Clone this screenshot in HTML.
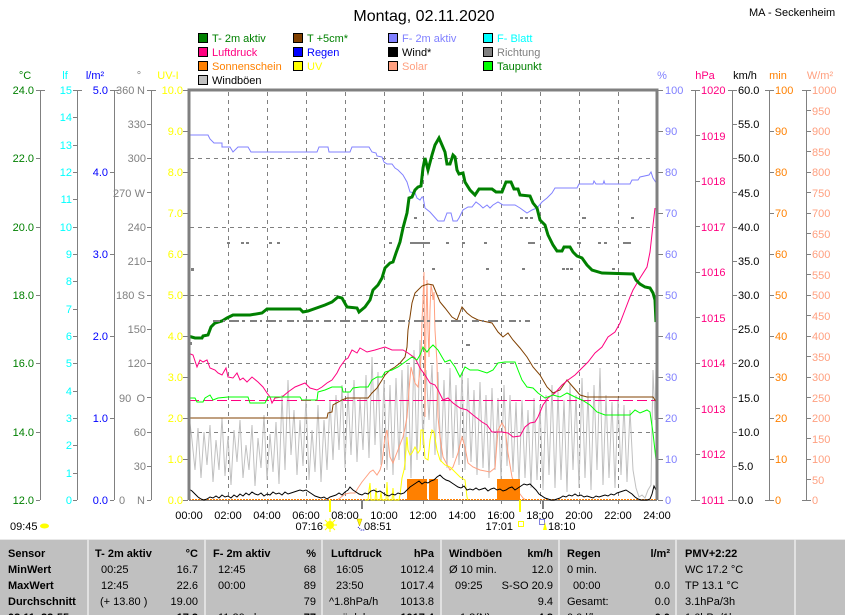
<!DOCTYPE html>
<html><head><meta charset="utf-8"><style>
html,body{margin:0;padding:0;background:#fff;width:845px;height:615px;overflow:hidden}
svg{display:block;font-family:"Liberation Sans",Arial,sans-serif}
</style></head><body>
<svg width="845" height="615" viewBox="0 0 845 615" xmlns="http://www.w3.org/2000/svg" font-size="11">
<rect width="845" height="615" fill="#fff"/>
<!-- title -->
<text x="424" y="21" font-size="16" text-anchor="middle">Montag, 02.11.2020</text>
<text x="749" y="16">MA - Seckenheim</text>

<!-- legend -->
<g stroke="#000" stroke-width="1" shape-rendering="crispEdges">
<rect x="198.5" y="33.5" width="9" height="9" fill="#008000"/>
<rect x="293.5" y="33.5" width="9" height="9" fill="#804000"/>
<rect x="388.5" y="33.5" width="9" height="9" fill="#8080ff"/>
<rect x="483.5" y="33.5" width="9" height="9" fill="#00ffff"/>
<rect x="198.5" y="47.5" width="9" height="9" fill="#ff0080"/>
<rect x="293.5" y="47.5" width="9" height="9" fill="#0000ff"/>
<rect x="388.5" y="47.5" width="9" height="9" fill="#000"/>
<rect x="483.5" y="47.5" width="9" height="9" fill="#808080"/>
<rect x="198.5" y="61.5" width="9" height="9" fill="#ff8000"/>
<rect x="293.5" y="61.5" width="9" height="9" fill="#ffff00"/>
<rect x="388.5" y="61.5" width="9" height="9" fill="#ffa080"/>
<rect x="483.5" y="61.5" width="9" height="9" fill="#00ff00"/>
<rect x="198.5" y="75.5" width="9" height="9" fill="#c0c0c0"/>
</g>
<text x="212" y="42" fill="#008000">T- 2m aktiv</text>
<text x="307" y="42" fill="#008000">T +5cm*</text>
<text x="402" y="42" fill="#8080ff">F- 2m aktiv</text>
<text x="497" y="42" fill="#00ffff">F- Blatt</text>
<text x="212" y="56" fill="#ff0080">Luftdruck</text>
<text x="307" y="56" fill="#0000ff">Regen</text>
<text x="402" y="56" fill="#000">Wind*</text>
<text x="497" y="56" fill="#808080">Richtung</text>
<text x="212" y="70" fill="#ff8000">Sonnenschein</text>
<text x="307" y="70" fill="#ffff00">UV</text>
<text x="402" y="70" fill="#ffa080">Solar</text>
<text x="497" y="70" fill="#008000">Taupunkt</text>
<text x="212" y="84" fill="#000">Windböen</text>

<!-- axis headers -->
<text x="25" y="79" fill="#008000" text-anchor="middle">°C</text>
<text x="65" y="79" fill="#00ffff" text-anchor="middle">lf</text>
<text x="95" y="79" fill="#0000ff" text-anchor="middle">l/m²</text>
<text x="139" y="79" fill="#808080" text-anchor="middle">°</text>
<text x="168" y="79" fill="#ffff00" text-anchor="middle">UV-I</text>
<text x="662" y="79" fill="#8080ff" text-anchor="middle">%</text>
<text x="705" y="79" fill="#ff0080" text-anchor="middle">hPa</text>
<text x="745" y="79" fill="#000" text-anchor="middle">km/h</text>
<text x="778" y="79" fill="#ff8000" text-anchor="middle">min</text>
<text x="820" y="79" fill="#ffa080" text-anchor="middle">W/m²</text>

<!-- axis lines and ticks -->
<g stroke="#808080" stroke-width="1" fill="none" shape-rendering="crispEdges">
<path d="M40.5 90V500M77.5 90V500M114.5 90V500M151.5 90V500M695.5 90V500M732.5 90V500M769.5 90V500M806.5 90V500"/>
<path d="M36 90.5H45M36 158.5H40M36 227.5H40M36 295.5H40M36 363.5H40M36 432.5H40M36 500.5H40"/>
<path d="M73 90.5H82M73 117.5H77M73 145.5H77M73 172.5H77M73 199.5H77M73 227.5H77M73 254.5H77M73 281.5H77M73 309.5H77M73 336.5H77M73 363.5H77M73 391.5H77M73 418.5H77M73 445.5H77M73 473.5H77M73 500.5H77"/>
<path d="M110 90.5H119M110 172.5H114M110 254.5H114M110 336.5H114M110 418.5H114M110 500.5H114"/>
<path d="M147 90.5H156M147 124.5H151M147 158.5H151M147 192.5H151M147 227.5H151M147 261.5H151M147 295.5H151M147 329.5H151M147 363.5H151M147 397.5H151M147 432.5H151M147 466.5H151M147 500.5H151"/>
<path d="M183 90.5H188M183 131.5H188M183 172.5H188M183 213.5H188M183 254.5H188M183 295.5H188M183 336.5H188M183 377.5H188M183 418.5H188M183 459.5H188M183 500.5H188"/>
<path d="M658 90.5H663M658 131.5H663M658 172.5H663M658 213.5H663M658 254.5H663M658 295.5H663M658 336.5H663M658 377.5H663M658 418.5H663M658 459.5H663M658 500.5H663"/>
<path d="M691 90.5H700M696 135.5H700M696 181.5H700M696 226.5H700M696 272.5H700M696 317.5H700M696 363.5H700M696 408.5H700M696 454.5H700M691 500.5H700"/>
<path d="M728 90.5H737M733 124.5H737M733 158.5H737M733 192.5H737M733 227.5H737M733 261.5H737M733 295.5H737M733 329.5H737M733 363.5H737M733 397.5H737M733 432.5H737M733 466.5H737M728 500.5H737"/>
<path d="M765 90.5H774M770 131.5H774M770 172.5H774M770 213.5H774M770 254.5H774M770 295.5H774M770 336.5H774M770 377.5H774M770 418.5H774M770 459.5H774M765 500.5H774"/>
<path d="M802 90.5H811M807 110.5H811M807 131.5H811M807 151.5H811M807 172.5H811M807 192.5H811M807 213.5H811M807 233.5H811M807 254.5H811M807 274.5H811M807 295.5H811M807 315.5H811M807 336.5H811M807 356.5H811M807 377.5H811M807 397.5H811M807 418.5H811M807 438.5H811M807 459.5H811M807 479.5H811M802 500.5H811"/>
<path d="M228.5 500V504M267.5 500V504M306.5 500V504M345.5 500V504M384.5 500V504M423.5 500V504M462.5 500V504M501.5 500V504M540.5 500V504M579.5 500V504M618.5 500V504"/>
</g>

<!-- left labels -->
<g fill="#008000" text-anchor="end">
<text x="34" y="94">24.0</text><text x="34" y="162">22.0</text><text x="34" y="231">20.0</text><text x="34" y="299">18.0</text><text x="34" y="367">16.0</text><text x="34" y="436">14.0</text><text x="34" y="504">12.0</text>
</g>
<g fill="#00ffff" text-anchor="end">
<text x="72" y="94">15</text><text x="72" y="121">14</text><text x="72" y="149">13</text><text x="72" y="176">12</text><text x="72" y="203">11</text><text x="72" y="231">10</text><text x="72" y="258">9</text><text x="72" y="285">8</text><text x="72" y="313">7</text><text x="72" y="340">6</text><text x="72" y="367">5</text><text x="72" y="395">4</text><text x="72" y="422">3</text><text x="72" y="449">2</text><text x="72" y="477">1</text><text x="72" y="504">0</text>
</g>
<g fill="#0000ff" text-anchor="end">
<text x="108" y="94">5.0</text><text x="108" y="176">4.0</text><text x="108" y="258">3.0</text><text x="108" y="340">2.0</text><text x="108" y="422">1.0</text><text x="108" y="504">0.0</text>
</g>
<g fill="#808080">
<text x="116" y="94">360</text><text x="145" y="94" text-anchor="end">N</text>
<text x="146" y="128" text-anchor="end">330</text>
<text x="146" y="162" text-anchor="end">300</text>
<text x="113" y="197">270</text><text x="145" y="197" text-anchor="end">W</text>
<text x="146" y="231" text-anchor="end">240</text>
<text x="146" y="265" text-anchor="end">210</text>
<text x="116" y="299">180</text><text x="145" y="299" text-anchor="end">S</text>
<text x="146" y="333" text-anchor="end">150</text>
<text x="146" y="367" text-anchor="end">120</text>
<text x="119" y="402">90</text><text x="145" y="402" text-anchor="end">O</text>
<text x="146" y="436" text-anchor="end">60</text>
<text x="146" y="470" text-anchor="end">30</text>
<text x="119" y="504">0</text><text x="145" y="504" text-anchor="end">N</text>
</g>
<g fill="#ffff00" text-anchor="end">
<text x="183" y="94">10.0</text><text x="183" y="135">9.0</text><text x="183" y="176">8.0</text><text x="183" y="217">7.0</text><text x="183" y="258">6.0</text><text x="183" y="299">5.0</text><text x="183" y="340">4.0</text><text x="183" y="381">3.0</text><text x="183" y="422">2.0</text><text x="183" y="463">1.0</text><text x="183" y="504">0.0</text>
</g>
<!-- right labels -->
<g fill="#8080ff">
<text x="665" y="94">100</text><text x="665" y="135">90</text><text x="665" y="176">80</text><text x="665" y="217">70</text><text x="665" y="258">60</text><text x="665" y="299">50</text><text x="665" y="340">40</text><text x="665" y="381">30</text><text x="665" y="422">20</text><text x="665" y="463">10</text><text x="665" y="504">0</text>
</g>
<g fill="#ff0080">
<text x="701" y="94">1020</text><text x="701" y="140">1019</text><text x="701" y="185">1018</text><text x="701" y="231">1017</text><text x="701" y="276">1016</text><text x="701" y="322">1015</text><text x="701" y="367">1014</text><text x="701" y="413">1013</text><text x="701" y="458">1012</text><text x="701" y="504">1011</text>
</g>
<g fill="#000">
<text x="738" y="94">60.0</text><text x="738" y="128">55.0</text><text x="738" y="162">50.0</text><text x="738" y="197">45.0</text><text x="738" y="231">40.0</text><text x="738" y="265">35.0</text><text x="738" y="299">30.0</text><text x="738" y="333">25.0</text><text x="738" y="367">20.0</text><text x="738" y="402">15.0</text><text x="738" y="436">10.0</text><text x="738" y="470">5.0</text><text x="738" y="504">0.0</text>
</g>
<g fill="#ff8000">
<text x="775" y="94">100</text><text x="775" y="135">90</text><text x="775" y="176">80</text><text x="775" y="217">70</text><text x="775" y="258">60</text><text x="775" y="299">50</text><text x="775" y="340">40</text><text x="775" y="381">30</text><text x="775" y="422">20</text><text x="775" y="463">10</text><text x="775" y="504">0</text>
</g>
<g fill="#ffa080">
<text x="812" y="94">1000</text><text x="812" y="115">950</text><text x="812" y="135">900</text><text x="812" y="156">850</text><text x="812" y="176">800</text><text x="812" y="197">750</text><text x="812" y="217">700</text><text x="812" y="238">650</text><text x="812" y="258">600</text><text x="812" y="279">550</text><text x="812" y="299">500</text><text x="812" y="320">450</text><text x="812" y="340">400</text><text x="812" y="361">350</text><text x="812" y="381">300</text><text x="812" y="402">250</text><text x="812" y="422">200</text><text x="812" y="443">150</text><text x="812" y="463">100</text><text x="812" y="484">50</text><text x="812" y="504">0</text>
</g>

<!-- grid -->
<g stroke="#808080" stroke-width="1" stroke-dasharray="4,4" fill="none" shape-rendering="crispEdges">
<path d="M228.5 92V500M267.5 92V500M306.5 92V500M345.5 92V500M384.5 92V500M423.5 92V500M462.5 92V500M501.5 92V500M540.5 92V500M579.5 92V500M618.5 92V500"/>
<path d="M190 158.5H656M190 227.5H656M190 295.5H656M190 363.5H656M190 432.5H656"/>
</g>
<line x1="189" y1="500.5" x2="657" y2="500.5" stroke="#808080" stroke-width="1"/>

<!-- wind gusts -->
<polyline fill="none" stroke="#c0c0c0" stroke-width="1" points="189,415 192,440 195,470 198,428 201,478 204,432 207,465 210,425 213,482 216,440 219,470 222,418 225,476 228,436 231,485 234,430 237,462 240,420 243,478 246,445 249,470 252,425 255,486 258,438 261,468 264,415 267,480 270,434 273,472 276,422 279,484 282,395 285,470 288,380 291,455 294,410 297,475 300,420 303,466 306,398 309,480 312,430 315,472 318,405 321,482 324,420 327,470 330,400 333,460 336,395 339,450 342,385 345,468 348,392 351,455 354,380 357,462 360,398 363,450 366,375 369,458 372,357 375,445 378,372 381,465 384,380 387,470 390,385 393,475 396,378 399,460 402,370 405,470 408,365 411,478 414,350 417,460 420,340 423,445 426,370 429,420 432,365 435,455 438,372 441,462 444,380 447,468 450,368 453,458 456,385 459,465 462,372 465,470 468,378 471,462 474,390 477,475 480,382 483,468 486,395 489,478 492,388 495,470 498,398 501,480 504,385 507,466 510,395 513,472 516,402 519,485 522,400 525,478 528,410 531,488 534,398 537,480 540,405 543,490 546,395 549,475 552,385 555,488 558,392 561,480 564,400 567,492 570,383 573,470 576,395 579,488 582,378 585,478 588,392 591,490 594,385 597,470 600,368 603,485 606,395 609,478 612,402 615,488 618,398 621,475 624,405 627,482 630,410 633,470 636,488 639,497 642,495 645,498 648,490 651,485 653,370 655,420 656,368 657,440"/>

<!-- solar -->
<polyline fill="none" stroke="#ffa080" stroke-width="1" points="337,500 340,498 345,494 350,493 355,493 358,488 362,482 366,477 370,472 373,470 377,475 380,470 382,463 384,445 385,437 387,430 390,457 393,463 396,455 398,450 401,442 403,437 405,428 407,417 409,390 411,367 413,375 415,383 418,387 420,370 421,357 422,320 423,300 424,272 425,417 426,320 427,280 428,330 429,357 430,310 431,285 432,290 433,300 434,292 435,330 437,363 438,417 440,437 443,457 450,470 453,467 458,453 462,437 465,447 468,463 473,467 480,470 490,472 495,468 498,430 502,423 505,428 508,453 512,477 517,490 523,498 526,500"/>

<!-- sunshine bars -->
<g fill="#ff8000">
<rect x="407" y="479" width="20" height="21"/>
<rect x="429" y="479" width="9" height="21"/>
<rect x="497" y="479" width="23" height="21"/>
</g>
<line x1="189" y1="499.5" x2="657" y2="499.5" stroke="#ff8000" stroke-width="1" stroke-dasharray="2,1"/>

<!-- UV -->
<polyline fill="none" stroke="#ffff00" stroke-width="1" points="365,500 368,500 369,490 370,483 371,500 375,500 376,488 377,500 380,500 381,492 382,500 386,500 387,482 388,500 392,500 393,488 394,500 399,500 400,495 402,478 404,470 405,463 407,437 408,450 410,455 412,453 415,447 418,453 420,450 421,430 423,430 425,458 428,460 430,440 432,430 434,432 437,450 440,460 445,465 450,467 453,470 460,477 465,480 467,497 468,500"/>

<!-- wind -->
<polyline fill="none" stroke="#000" stroke-width="1" points="189,489 192,491 195,494 198,497 201,499 204,500 207,499 210,497 213,498 216,496 219,498 222,495 225,497 228,496 231,498 234,495 237,497 240,494 243,496 246,493 249,495 252,492 255,494 258,495 261,493 264,496 267,494 270,495 273,492 276,494 279,493 282,495 285,492 288,494 291,493 294,492 297,491 300,490 303,491 306,490 309,492 312,494 315,496 318,497 321,498 324,497 327,499 330,497 333,496 336,495 339,493 342,495 345,492 348,490 350,487 353,490 356,492 359,494 362,495 365,493 368,494 371,491 374,490 377,492 380,491 383,493 386,495 389,496 392,494 395,495 398,493 401,494 404,493 407,490 410,487 413,485 416,483 419,481 422,484 425,482 428,483 431,481 434,480 437,477 440,475 443,478 446,480 449,481 452,483 455,485 458,487 461,488 464,486 467,490 470,489 473,490 476,488 479,490 482,489 485,488 488,491 491,489 494,488 497,490 500,489 503,491 506,490 509,488 512,487 515,490 518,488 521,486 524,484 527,485 530,484 533,487 536,490 539,494 542,496 545,498 548,499 551,500 554,500 557,499 560,498 563,496 566,497 569,495 572,496 575,494 578,496 581,495 584,497 587,496 590,497 593,498 596,496 599,497 602,496 605,495 608,496 611,494 614,495 617,493 620,492 623,491 626,490 629,492 632,494 635,497 638,499 641,500 644,500 647,500 650,499 652,494 654,486 656,490 657,495"/>

<!-- pressure dashed avg -->
<line x1="189" y1="400.5" x2="657" y2="400.5" stroke="#ff0080" stroke-width="1" stroke-dasharray="10,4"/>

<!-- T +5cm -->
<polyline fill="none" stroke="#804000" stroke-width="1" points="188,418 327,418 328,413 332,412 333,405 342,400 347,398 368,398 372,393 377,388 382,380 385,375 390,370 395,367 400,363 405,357 407,347 408,330 410,317 412,303 415,293 418,290 422,286 428,284 433,285 440,302 445,308 452,317 457,320 462,307 467,313 472,317 478,320 492,323 498,332 503,337 508,333 513,340 520,348 527,357 533,367 540,375 547,387 553,393 560,390 567,380 573,387 580,395 587,397 653,397 657,403"/>

<!-- pressure -->
<polyline fill="none" stroke="#ff0080" stroke-width="1" points="188,353 193,355 197,367 200,360 203,362 207,360 210,368 215,370 218,373 222,375 226,368 228,377 233,378 237,373 240,380 243,378 247,382 252,377 258,382 263,387 267,393 270,397 272,403 275,398 282,397 288,392 295,387 300,385 305,383 310,388 317,390 322,387 327,383 332,380 337,373 340,367 345,360 348,358 352,350 357,353 360,348 367,352 375,350 385,347 392,350 403,350 408,353 415,358 420,368 425,375 430,383 435,385 438,390 443,400 448,398 453,403 460,408 467,410 473,415 482,422 487,425 492,432 502,432 508,433 513,437 520,436 525,427 530,423 535,422 538,417 543,405 548,398 555,393 562,385 568,380 575,375 582,368 588,362 595,353 602,347 608,337 615,332 620,323 625,310 630,297 633,290 640,278 647,267 650,252 653,225 655,208"/>

<!-- dew point -->
<polyline fill="none" stroke="#00ff00" stroke-width="1" points="188,398 195,398 197,402 203,402 205,398 210,395 213,400 218,398 228,397 238,397 248,397 250,403 265,403 268,397 282,397 300,397 302,400 317,400 318,392 325,390 332,387 342,387 343,392 350,392 353,388 360,387 368,387 372,380 377,377 382,377 385,372 392,370 398,367 405,362 412,357 417,360 420,355 423,347 427,352 430,348 433,345 438,350 442,357 445,362 450,360 455,367 460,377 465,367 470,370 478,370 487,373 493,370 498,363 505,362 515,362 518,370 522,380 527,387 533,388 538,393 545,398 553,395 560,397 567,393 575,397 582,400 590,405 597,412 605,415 630,415 635,410 640,413 647,410 650,412 653,433 656,460"/>

<!-- humidity -->
<polyline fill="none" stroke="#8080ff" stroke-width="1" points="188,135 208,135 210,139 214,143 222,143 222,147 230,147 233,152 238,147 248,147 251,152 317,152 319,147 328,147 329,152 350,152 352,147 369,147 372,152 376,153 377,156 382,157 384,162 387,164 392,164 395,168 398,170 403,175 407,182 410,192 415,193 417,198 420,200 422,197 423,197 425,208 430,212 438,221 444,221 447,213 451,213 453,221 457,221 459,218 463,210 468,207 472,207 476,202 480,205 483,208 487,205 490,208 493,205 498,202 503,205 515,205 520,208 527,213 532,210 537,208 542,202 547,198 552,193 555,188 577,188 579,184 593,184 594,181 596,184 603,184 604,181 605,184 630,184 632,180 638,180 640,177 649,175 651,172 653,178 657,184"/>

<!-- temperature -->
<polyline fill="none" stroke="#008000" stroke-width="3" stroke-linejoin="miter" points="188,336 195,338 202,338 203,336 208,335 211,327 215,323 222,321 227,318 233,315 250,315 262,313 267,309 300,309 303,312 308,311 325,305 332,302 338,297 342,298 347,307 357,308 359,312 365,307 370,300 373,290 378,285 382,278 385,268 390,263 393,262 396,253 400,242 403,228 407,213 409,198 412,197 415,190 418,187 421,186 423,168 425,158 428,170 432,155 435,145 439,138 442,145 445,152 447,164 450,164 453,155 455,157 457,170 459,174 463,173 465,182 470,190 475,195 479,189 492,189 496,192 502,192 506,182 511,182 514,189 518,189 520,195 530,196 533,203 537,208 540,220 545,225 548,235 553,245 557,251 562,251 564,247 570,247 573,252 577,256 582,258 587,265 592,270 602,273 633,274 636,280 640,284 645,287 650,288 653,293 655,300 656,322"/>

<!-- direction dots -->
<g fill="#808080">
<rect x="227" y="242" width="3" height="2"/><rect x="241" y="242" width="3" height="2"/><rect x="246" y="242" width="3" height="2"/><rect x="269" y="242" width="3" height="2"/><rect x="277" y="242" width="3" height="2"/><rect x="389" y="242" width="3" height="2"/><rect x="410" y="242" width="14" height="2"/><rect x="424" y="242" width="6" height="2"/><rect x="446" y="242" width="3" height="2"/><rect x="462" y="242" width="3" height="2"/><rect x="484" y="242" width="3" height="2"/><rect x="528" y="242" width="7" height="2"/><rect x="577" y="242" width="4" height="2"/><rect x="598" y="242" width="3" height="2"/><rect x="604" y="242" width="3" height="2"/><rect x="623" y="242" width="8" height="2"/>
<rect x="191" y="268" width="3" height="3"/><rect x="432" y="268" width="3" height="2"/><rect x="486" y="268" width="3" height="2"/><rect x="522" y="268" width="3" height="2"/><rect x="562" y="268" width="3" height="2"/><rect x="566" y="268" width="3" height="2"/><rect x="570" y="268" width="3" height="2"/><rect x="612" y="268" width="3" height="2"/>
<rect x="414" y="217" width="3" height="2"/><rect x="520" y="217" width="3" height="2"/><rect x="525" y="217" width="3" height="2"/><rect x="530" y="217" width="3" height="2"/><rect x="582" y="217" width="4" height="2"/><rect x="631" y="217" width="3" height="2"/>
<rect x="466" y="344" width="4" height="2"/><rect x="189" y="342" width="3" height="3"/>
</g>
<line x1="213" y1="321" x2="530" y2="321" stroke="#808080" stroke-width="2" stroke-dasharray="7,3,2,4,10,3,3,5"/>

<!-- plot border -->
<g stroke="#808080" stroke-width="3" fill="none">
<path d="M189 500V90H657V500"/>
</g>

<!-- time labels -->
<g text-anchor="middle" fill="#000">
<text x="189" y="519">00:00</text><text x="228" y="519">02:00</text><text x="267" y="519">04:00</text><text x="306" y="519">06:00</text><text x="345" y="519">08:00</text><text x="384" y="519">10:00</text><text x="423" y="519">12:00</text><text x="462" y="519">14:00</text><text x="501" y="519">16:00</text><text x="540" y="519">18:00</text><text x="579" y="519">20:00</text><text x="618" y="519">22:00</text><text x="657" y="519">24:00</text>
</g>
<!-- sun markers -->
<rect x="329" y="500" width="2" height="12" fill="#ffff00"/>
<rect x="361" y="500" width="2" height="9" fill="#808080"/>
<rect x="519" y="500" width="2" height="12" fill="#ffff00"/>
<rect x="542" y="500" width="2" height="9" fill="#808080"/>
<text x="10" y="530">09:45</text>
<ellipse cx="44.5" cy="526" rx="4.5" ry="2.5" fill="#ffff00"/>
<text x="323" y="530" text-anchor="end">07:16</text>
<g stroke="#ffff00" stroke-width="1"><path d="M330 518V532M323 525H337M325 520L335 530M335 520L325 530"/></g>
<circle cx="330" cy="525" r="4" fill="#ffff00"/>
<path d="M357 519H362L359.5 526Z" fill="#ffff00" stroke="#c0a000" stroke-width="0.5"/>
<path d="M358 527L361 530H365" stroke="#0000c0" stroke-width="1" fill="none" stroke-dasharray="1,1"/>
<text x="364" y="530">08:51</text>
<text x="513" y="530" text-anchor="end">17:01</text>
<rect x="518.5" y="521.5" width="5" height="5" fill="none" stroke="#ffff00"/>
<rect x="539.5" y="519.5" width="5" height="5" fill="none" stroke="#0000c0" stroke-dasharray="1,1"/>
<path d="M543 530L545 522L547 530Z" fill="#ffff00"/>
<text x="548" y="530">18:10</text>

<!-- table -->
<rect x="0" y="539" width="845" height="76" fill="#c0c0c0"/>
<line x1="0" y1="539.5" x2="845" y2="539.5" stroke="#e8e8e8"/>
<g stroke="#ececec" stroke-width="1.5">
<path d="M88 539V615M205 539V615M322 539V615M441 539V615M559 539V615M676 539V615M795 539V615"/>
</g>
<g fill="#000">
<g font-weight="bold">
<text x="8" y="557">Sensor</text><text x="8" y="573">MinWert</text><text x="8" y="589">MaxWert</text><text x="8" y="605">Durchschnitt</text><text x="8" y="621">02.11. 22:55</text>
<text x="95" y="557">T- 2m aktiv</text><text x="198" y="557" text-anchor="end">°C</text><text x="198" y="621" text-anchor="end">17.2</text>
<text x="213" y="557">F- 2m aktiv</text><text x="316" y="557" text-anchor="end">%</text><text x="316" y="621" text-anchor="end">77</text>
<text x="331" y="557">Luftdruck</text><text x="434" y="557" text-anchor="end">hPa</text><text x="434" y="621" text-anchor="end">1017.4</text>
<text x="449" y="557">Windböen</text><text x="553" y="557" text-anchor="end">km/h</text><text x="553" y="621" text-anchor="end">4.8</text>
<text x="567" y="557">Regen</text><text x="670" y="557" text-anchor="end">l/m²</text><text x="670" y="621" text-anchor="end">0.0</text>
<text x="685" y="557">PMV+2:22</text>
</g>
<text x="101" y="573">00:25</text><text x="198" y="573" text-anchor="end">16.7</text>
<text x="101" y="589">12:45</text><text x="198" y="589" text-anchor="end">22.6</text>
<text x="100" y="605">(+ 13.80 )</text><text x="198" y="605" text-anchor="end">19.00</text>
<text x="218" y="573">12:45</text><text x="316" y="573" text-anchor="end">68</text>
<text x="218" y="589">00:00</text><text x="316" y="589" text-anchor="end">89</text>
<text x="316" y="605" text-anchor="end">79</text>
<text x="218" y="621">11:20 ..h</text>
<text x="336" y="573">16:05</text><text x="434" y="573" text-anchor="end">1012.4</text>
<text x="336" y="589">23:50</text><text x="434" y="589" text-anchor="end">1017.4</text>
<text x="329" y="605">^1.8hPa/h</text><text x="434" y="605" text-anchor="end">1013.8</text>
<text x="336" y="621">..ü..lel</text>
<text x="449" y="573">Ø 10 min.</text><text x="553" y="573" text-anchor="end">12.0</text>
<text x="455" y="589">09:25</text><text x="553" y="589" text-anchor="end">S-SO 20.9</text>
<text x="553" y="605" text-anchor="end">9.4</text>
<text x="460" y="621">1.8(N)</text>
<text x="567" y="573">0 min.</text>
<text x="573" y="589">00:00</text><text x="670" y="589" text-anchor="end">0.0</text>
<text x="567" y="605">Gesamt:</text><text x="670" y="605" text-anchor="end">0.0</text>
<text x="567" y="621">0.0 l/h</text>
<text x="685" y="573">WC 17.2 °C</text>
<text x="685" y="589">TP 13.1 °C</text>
<text x="685" y="605">3.1hPa/3h</text>
<text x="685" y="621">1.6hPa/1h</text>
</g>
</svg>
</body></html>
